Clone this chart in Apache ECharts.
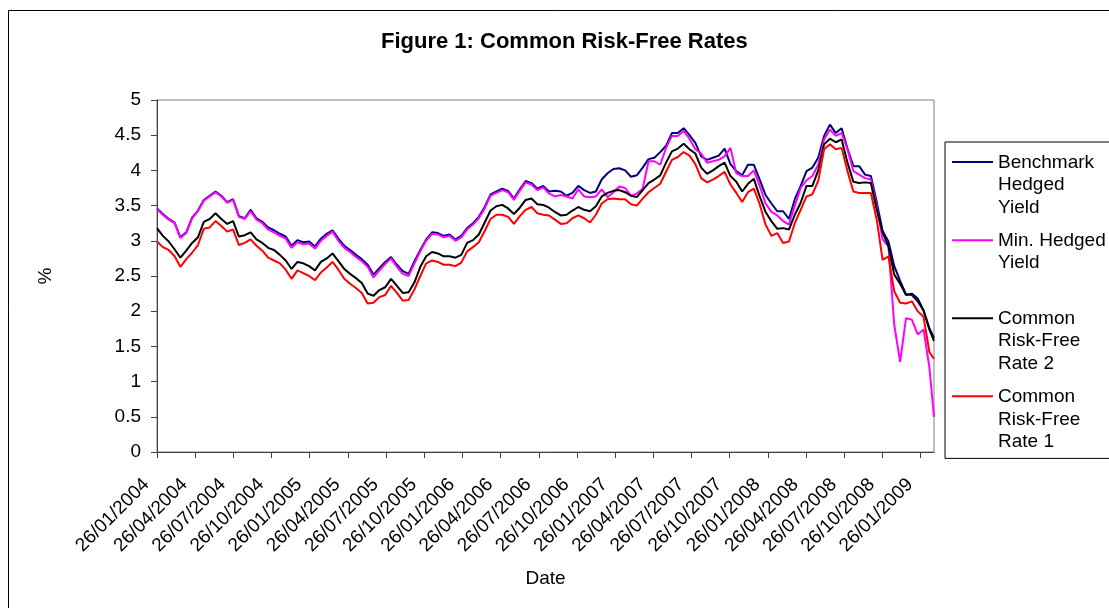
<!DOCTYPE html>
<html>
<head>
<meta charset="utf-8">
<script src="https://cdn.jsdelivr.net/npm/echarts@6/dist/echarts.min.js"></script>
<style>
html,body{margin:0;padding:0;background:#fff;}
#chart{width:1109px;height:608px;}
</style>
</head>
<body>
<div id="chart"></div>
<script>
// ---------- data ----------
const titleText = 'Figure 1: Common Risk-Free Rates';
const xAxisName = 'Date';
const yAxisName = '%';
const seriesNames = ['Benchmark Hedged Yield', 'Min. Hedged Yield', 'Common Risk-Free Rate 2', 'Common Risk-Free Rate 1'];
const legendLabels = ['Benchmark\nHedged\nYield', 'Min. Hedged\nYield\n ', 'Common\nRisk-Free\nRate 2', 'Common\nRisk-Free\nRate 1'];
const xTickLabels = ['26/01/2004','26/04/2004','26/07/2004','26/10/2004','26/01/2005','26/04/2005','26/07/2005','26/10/2005',
  '26/01/2006','26/04/2006','26/07/2006','26/10/2006','26/01/2007','26/04/2007','26/07/2007','26/10/2007',
  '26/01/2008','26/04/2008','26/07/2008','26/10/2008','26/01/2009'];
// observations: one every 14 days from 26/01/2004 (day 0), last observation on day 1859
const stepDays = 14;
const lastDay = 1859;

const benchmarkHedged = [3.46,3.38,3.31,3.26,3.05,3.12,3.33,3.43,3.58,3.64,3.70,3.64,3.55,3.59,3.35,3.32,3.44,3.32,3.27,3.19,
  3.15,3.10,3.06,2.93,3.01,2.98,2.99,2.92,3.03,3.10,3.15,3.03,2.93,2.87,2.80,2.74,2.66,2.52,2.61,2.70,
  2.77,2.66,2.57,2.53,2.71,2.87,3.02,3.12,3.11,3.07,3.09,3.02,3.07,3.18,3.25,3.34,3.48,3.66,3.70,3.74,
  3.71,3.60,3.73,3.85,3.82,3.74,3.78,3.70,3.71,3.70,3.64,3.68,3.78,3.72,3.68,3.70,3.87,3.96,4.02,4.03,
  4.00,3.91,3.93,4.04,4.16,4.18,4.26,4.35,4.53,4.53,4.60,4.50,4.39,4.20,4.15,4.18,4.21,4.31,4.09,3.99,
  3.93,4.08,4.08,3.87,3.65,3.53,3.42,3.42,3.31,3.59,3.78,3.99,4.04,4.18,4.49,4.65,4.53,4.60,4.31,4.06,
  4.06,3.94,3.92,3.55,3.14,2.99,2.64,2.43,2.24,2.23,2.14,2.01,1.76,1.62];
const minHedged = [3.45,3.37,3.30,3.25,3.04,3.11,3.32,3.42,3.57,3.63,3.69,3.63,3.54,3.58,3.34,3.31,3.42,3.30,3.25,3.16,
  3.12,3.07,3.03,2.90,2.98,2.95,2.96,2.89,3.00,3.07,3.13,3.00,2.90,2.84,2.77,2.71,2.63,2.48,2.58,2.67,
  2.75,2.63,2.53,2.50,2.68,2.85,3.00,3.10,3.09,3.05,3.07,3.00,3.05,3.16,3.23,3.32,3.46,3.64,3.68,3.72,
  3.69,3.58,3.71,3.83,3.80,3.72,3.76,3.67,3.63,3.65,3.63,3.60,3.73,3.63,3.62,3.63,3.73,3.62,3.69,3.77,
  3.75,3.64,3.67,3.74,4.13,4.13,4.08,4.32,4.49,4.49,4.56,4.45,4.30,4.24,4.11,4.13,4.15,4.20,4.32,3.96,
  3.92,3.92,4.00,3.78,3.53,3.41,3.36,3.28,3.23,3.50,3.75,3.86,3.92,4.08,4.44,4.58,4.49,4.53,4.30,3.99,
  3.94,3.89,3.87,3.49,3.02,2.92,1.80,1.28,1.90,1.88,1.67,1.74,1.20,0.50];
const commonRate2 = [3.18,3.07,2.99,2.88,2.76,2.86,2.97,3.05,3.27,3.31,3.39,3.31,3.24,3.28,3.06,3.08,3.12,3.02,2.97,2.90,
  2.87,2.80,2.72,2.60,2.70,2.68,2.64,2.58,2.70,2.75,2.82,2.71,2.60,2.53,2.47,2.40,2.25,2.22,2.30,2.34,
  2.46,2.36,2.26,2.27,2.41,2.63,2.78,2.84,2.82,2.78,2.78,2.76,2.80,2.97,3.01,3.09,3.26,3.43,3.49,3.51,
  3.46,3.38,3.47,3.58,3.60,3.52,3.51,3.47,3.41,3.36,3.37,3.43,3.48,3.44,3.42,3.49,3.63,3.68,3.71,3.72,
  3.69,3.64,3.62,3.72,3.82,3.87,3.93,4.11,4.27,4.31,4.38,4.30,4.24,4.04,3.95,4.00,4.06,4.11,3.92,3.84,
  3.70,3.81,3.88,3.63,3.41,3.28,3.17,3.18,3.16,3.37,3.54,3.78,3.78,4.00,4.37,4.45,4.40,4.44,4.11,3.84,
  3.82,3.83,3.82,3.44,3.12,2.92,2.52,2.39,2.23,2.25,2.18,2.01,1.74,1.58];
const commonRate1 = [2.99,2.91,2.87,2.78,2.63,2.74,2.83,2.94,3.17,3.19,3.28,3.21,3.13,3.16,2.94,2.97,3.02,2.93,2.86,2.76,
  2.72,2.68,2.59,2.46,2.58,2.54,2.50,2.44,2.55,2.62,2.70,2.59,2.46,2.39,2.33,2.26,2.11,2.12,2.20,2.23,
  2.36,2.26,2.15,2.16,2.31,2.50,2.68,2.72,2.70,2.66,2.66,2.64,2.69,2.85,2.91,2.98,3.14,3.31,3.37,3.37,
  3.34,3.24,3.35,3.44,3.48,3.39,3.37,3.36,3.30,3.24,3.25,3.32,3.36,3.32,3.26,3.37,3.53,3.59,3.60,3.59,
  3.59,3.52,3.50,3.60,3.69,3.75,3.81,3.98,4.15,4.19,4.26,4.21,4.09,3.89,3.83,3.87,3.92,3.98,3.80,3.68,
  3.55,3.69,3.74,3.52,3.23,3.07,3.11,2.97,2.99,3.25,3.44,3.63,3.66,3.85,4.30,4.37,4.30,4.32,3.99,3.70,
  3.68,3.68,3.68,3.30,2.73,2.78,2.28,2.12,2.11,2.14,2.00,1.92,1.42,1.32];
const seriesColors = ['#000080', '#FF00FF', '#000000', '#FF0000'];

// ---------- build ----------
const FONT = '"Liberation Sans", Arial, sans-serif';
const allValues = [benchmarkHedged, minHedged, commonRate2, commonRate1];
function obsDay(i, n) { return i === n - 1 ? lastDay : i * stepDays; }
const labelMap = {};
seriesNames.forEach((n, k) => { labelMap[n] = legendLabels[k]; });

const chart = echarts.init(document.getElementById('chart'));
chart.setOption({
  animation: false,
  backgroundColor: '#ffffff',
  textStyle: { fontFamily: FONT },
  title: {
    text: titleText,
    left: 381,
    top: 31,
    padding: 0,
    textStyle: { fontFamily: FONT, fontSize: 22, fontWeight: 'bold', color: '#000' }
  },
  graphic: [{
    type: 'rect', silent: true, z: -1,
    shape: { x: 8.5, y: 10.5, width: 1300, height: 800 },
    style: { fill: 'none', stroke: '#000', lineWidth: 1 }
  }],
  grid: {
    left: 157, top: 100, width: 777, height: 352,
    show: true, borderColor: '#808080', borderWidth: 1, backgroundColor: 'transparent'
  },
  legend: {
    orient: 'vertical',
    left: 945, top: 142,
    padding: [9, 14, 5, 7],
    itemWidth: 41, itemHeight: 68, itemGap: 10,
    icon: 'path://M0,0L0.01,0L0.01,0.01L0,0.01Z M0,10L41,10L41,12L0,12Z M40.99,67.99L41,67.99L41,68L40.99,68Z',
    borderColor: '#000', borderWidth: 1, borderRadius: 0,
    selectedMode: false,
    itemStyle: { borderWidth: 0 },
    textStyle: { fontFamily: FONT, fontSize: 19, color: '#000', lineHeight: 22.7 },
    formatter: name => labelMap[name],
    data: seriesNames
  },
  xAxis: {
    type: 'value', min: 0, max: lastDay, interval: 91.35,
    name: xAxisName, nameLocation: 'middle', nameGap: 117,
    nameTextStyle: { fontFamily: FONT, fontSize: 19, color: '#000' },
    axisLine: { show: true, onZero: false, lineStyle: { color: '#404040', width: 1 } },
    axisTick: { show: true, length: 6, lineStyle: { color: '#404040' } },
    axisLabel: {
      rotate: 45, fontFamily: FONT, fontSize: 19, color: '#000', margin: 19,
      padding: [0, 15, 0, 0], showMaxLabel: false,
      formatter: (v, i) => xTickLabels[i] || ''
    },
    splitLine: { show: false }
  },
  yAxis: {
    type: 'value', min: 0, max: 5, interval: 0.5,
    name: yAxisName, nameLocation: 'middle', nameGap: 102, nameRotate: 90,
    nameTextStyle: { fontFamily: FONT, fontSize: 19, color: '#000' },
    axisLine: { show: true, lineStyle: { color: '#404040', width: 1 } },
    axisTick: { show: true, length: 6, lineStyle: { color: '#404040' } },
    axisLabel: { fontFamily: FONT, fontSize: 19, color: '#000', margin: 16 },
    splitLine: { show: false }
  },
  series: seriesNames.map((name, k) => ({
    name: name,
    type: 'line',
    data: allValues[k].map((v, i, arr) => [obsDay(i, arr.length), v]),
    showSymbol: false,
    symbol: 'none',
    silent: true,
    lineStyle: { color: seriesColors[k], width: 2 },
    itemStyle: { color: seriesColors[k] }
  }))
});
</script>
</body>
</html>
